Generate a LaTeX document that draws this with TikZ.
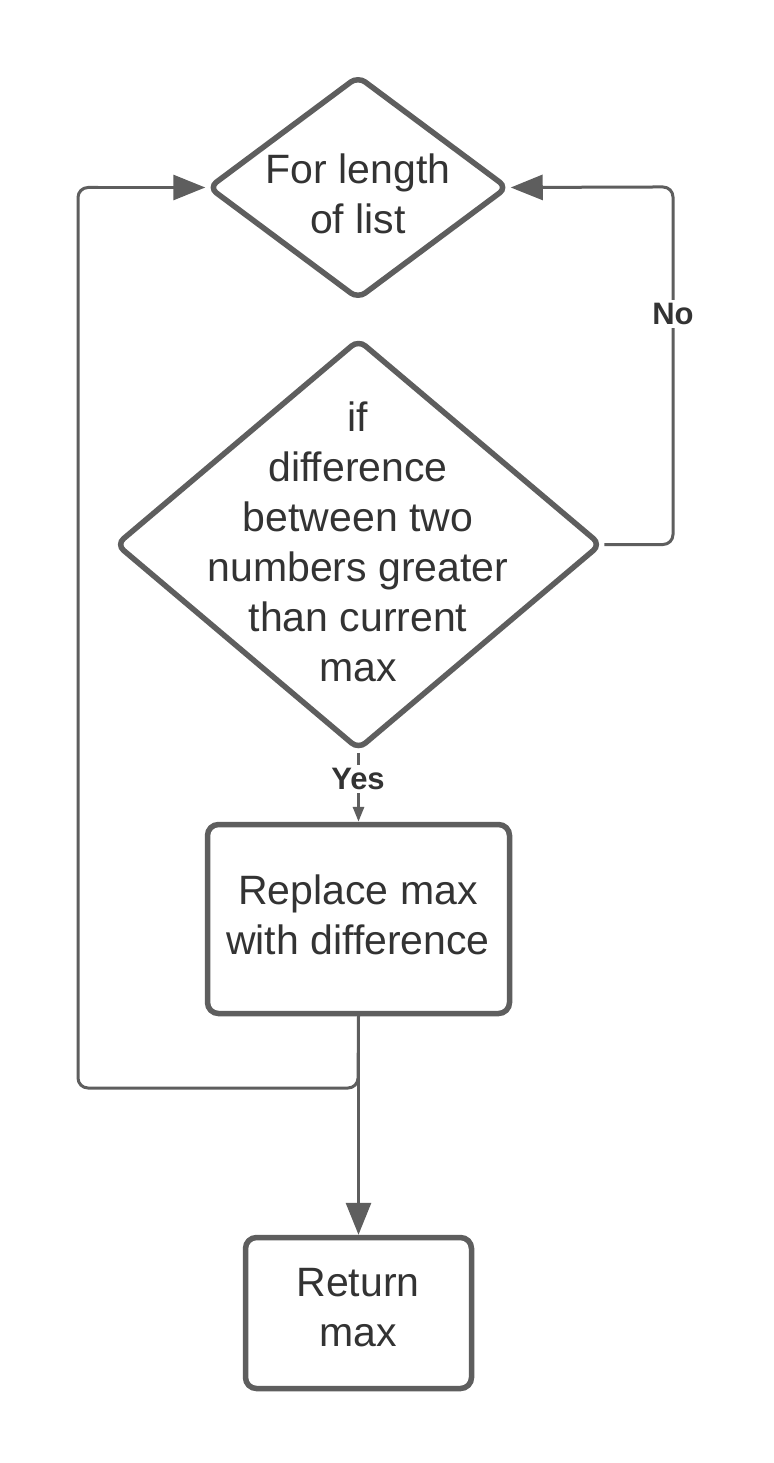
\documentclass[tikz,border=0pt]{standalone}
\usepackage{fontspec}
\setmainfont{Liberation Sans}
\usetikzlibrary{shapes.geometric,arrows.meta}
\definecolor{linecol}{HTML}{5E5E5E}
\definecolor{txtcol}{HTML}{333333}
\begin{document}
\begin{tikzpicture}[x=1pt,y=-1pt,
  shapebox/.style={draw=linecol,line width=5.5pt,fill=white,inner sep=0pt},
  diam/.style={shapebox,diamond,rounded corners=9pt},
  procbox/.style={shapebox,rectangle,rounded corners=11pt},
  txt/.style={text=txtcol,align=center,font=\fontsize{41}{50}\selectfont,inner sep=0pt},
  conn/.style={draw=linecol,line width=3pt},
  bigtip/.style={-{Triangle[length=32pt,width=25pt]}},
  smalltip/.style={-{Triangle[length=15pt,width=11pt]}},
  lab/.style={text=txtcol,fill=white,font=\fontsize{31}{36}\bfseries\selectfont,inner sep=3pt}]
\useasboundingbox (0,0) rectangle (773,1463);
\fill[white] (0,0) rectangle (773,1463);
% shapes
\node[diam,minimum width=300pt,minimum height=224pt] (d1) at (358,187.5) {};
\node[txt] at (358,194) {For length\\of list};
\node[diam,minimum width=486pt,minimum height=411pt] (d2) at (358.5,544.5) {};
\node[txt] at (358,542) {if\\difference\\between two\\numbers greater\\than current\\max};
\node[procbox,minimum width=302pt,minimum height=189pt] (r1) at (358.5,919) {};
\node[txt] at (358,915) {Replace max\\with difference};
\node[procbox,minimum width=226pt,minimum height=151pt] (r2) at (358.5,1313) {};
\node[txt] at (358,1308) {Return\\max};
% corner coordinates
\coordinate (lb) at (78,1088);
\coordinate (rt) at (673,187);
% connectors
\draw[conn,rounded corners=10pt] (r1.south) -- (358,1088) -- (lb) -- (78,187.5) -- ++(20,0);
\draw[conn,bigtip] (98,187.5) -- (d1.west);
\draw[conn,bigtip] (r1.south) -- (r2.north);
\draw[conn,rounded corners=10pt] (d2.east) -- (673,544.5) -- (rt) -- ++(-20,0);
\draw[conn,bigtip] (653,187) -- (d1.east);
\draw[conn,smalltip] (d2.south) -- (r1.north);
% labels
\node[lab] (no) at (673,314) {No};
\node[lab] (yes) at (358,779) {Yes};
\end{tikzpicture}
\end{document}
